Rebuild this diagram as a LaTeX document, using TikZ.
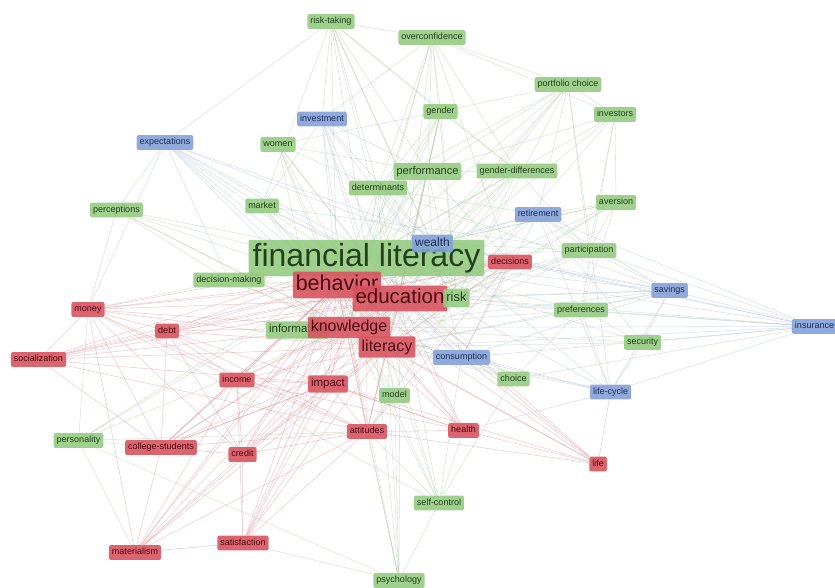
\documentclass[tikz,border=0pt]{standalone}
\usepackage{fontspec}
\setmainfont{Liberation Sans}
\definecolor{gfill}{HTML}{95CB82}
\definecolor{rfill}{HTML}{D8545F}
\definecolor{bfill}{HTML}{84A2D8}
\definecolor{gtext}{HTML}{22401A}
\definecolor{rtext}{HTML}{4A0A12}
\definecolor{btext}{HTML}{1C2E5C}
\definecolor{gline}{HTML}{A6C69C}
\definecolor{rline}{HTML}{E0838C}
\definecolor{bline}{HTML}{A6B6DA}
\pgfdeclarelayer{bg}
\pgfsetlayers{bg,main}
\tikzset{
  kw/.style={rounded corners=2pt, inner xsep=3pt, inner ysep=3.3pt, fill opacity=0.9, text opacity=1},
  fs/.style={font=\fontsize{#1}{#1}\selectfont, text height={0.72*#1pt}, text depth={0.21*#1pt}},
  fs/.default=9,
  gk/.style={kw, fill=gfill, text=gtext},
  rk/.style={kw, fill=rfill, text=rtext},
  bk/.style={kw, fill=bfill, text=btext},
  gedge/.style={draw=gline, line width=0.55pt, draw opacity=0.42},
  redge/.style={draw=rline, line width=0.55pt, draw opacity=0.42},
  bedge/.style={draw=bline, line width=0.55pt, draw opacity=0.42}
}
\begin{document}
\begin{tikzpicture}[x=1pt,y=-1pt]
\useasboundingbox (0,0) rectangle (835,588);
% small green
\node[gk,fs] (rtak) at (331,21.5) {risk-taking};
\node[gk,fs] (overc) at (432,37.5) {overconfidence};
\node[gk,fs] (portf) at (568,84.5) {portfolio choice};
\node[gk,fs] (gender) at (440.5,111.5) {gender};
\node[gk,fs] (investors) at (615,114.5) {investors};
\node[gk,fs] (women) at (278,144.5) {women};
\node[gk,fs] (gdiff) at (517,171) {gender-differences};
\node[gk,fs] (determ) at (378,188) {determinants};
\node[gk,fs] (market) at (262,206) {market};
\node[gk,fs] (percep) at (116.5,210) {perceptions};
\node[gk,fs] (aversion) at (616,202.5) {aversion};
\node[gk,fs] (partic) at (589,250.5) {participation};
\node[gk,fs] (decmak) at (229,280) {decision-making};
\node[gk,fs] (prefs) at (581,310) {preferences};
\node[gk,fs] (security) at (642.5,342.5) {security};
\node[gk,fs] (choice) at (513.5,379) {choice};
\node[gk,fs] (model) at (394.5,395.5) {model};
\node[gk,fs] (person) at (78.5,440.5) {personality};
\node[gk,fs] (selfc) at (439,503) {self-control};
\node[gk,fs] (psych) at (399,580.5) {psychology};
% small blue
\node[bk,fs] (invest) at (322,119) {investment};
\node[bk,fs] (expect) at (165,142.5) {expectations};
\node[bk,fs] (retire) at (538,214.5) {retirement};
\node[bk,fs] (savings) at (669.5,290.5) {savings};
\node[bk,fs] (insur) at (814.5,326.5) {insurance};
\node[bk,fs] (consum) at (461.5,357.5) {consumption};
\node[bk,fs] (lifecyc) at (610.5,392) {life-cycle};
% small red
\node[rk,fs] (money) at (88,309.5) {money};
\node[rk,fs] (debt) at (167,331) {debt};
\node[rk,fs] (social) at (38.5,359.5) {socialization};
\node[rk,fs] (income) at (237,380) {income};
\node[rk,fs] (attit) at (367,431.5) {attitudes};
\node[rk,fs] (health) at (463.5,430.5) {health};
\node[rk,fs] (college) at (161,447.5) {college-students};
\node[rk,fs] (credit) at (242.5,454.5) {credit};
\node[rk,fs] (life) at (598,464) {life};
\node[rk,fs] (mater) at (135,552.5) {materialism};
\node[rk,fs] (satis) at (243,543) {satisfaction};
% medium / large
\node[gk,fs=11] (perf) at (427.5,171.5) {performance};
\node[rk,fs=11.5] (impact) at (328,384) {impact};
\node[gk,fs=32,inner xsep=4pt] (fl) at (366.5,258) {financial literacy};
\node[bk,fs=12] (wealth) at (432.5,243.5) {wealth};
\node[rk,fs] (dec) at (510,262) {decisions};
\node[rk,fs=21.5] (beh) at (337,285) {behavior};
\node[rk,fs=20.5] (edu) at (400,298.5) {education};
\node[gk,fs=13] (risk) at (456.5,298) {risk};
\node[gk,fs=11.5] (info) at (297.5,330) {information};
\node[rk,fs=16] (know) at (349,327.5) {knowledge};
\node[rk,fs=16] (lit) at (387,347) {literacy};

\begin{pgfonlayer}{bg}
\fill[white] (0,0) rectangle (835,588);
\foreach \a/\b in {rtak/fl, rtak/perf, rtak/determ, rtak/gender, rtak/risk, rtak/beh, rtak/overc, rtak/market, rtak/edu, rtak/invest, rtak/gdiff, rtak/wealth,
 overc/fl, overc/perf, overc/gender, overc/portf, overc/risk, overc/gdiff, overc/invest, overc/dec, overc/know, overc/edu, overc/investors, overc/determ,
 portf/fl, portf/partic, portf/wealth, portf/risk, portf/gender, portf/perf, portf/lifecyc, portf/edu, portf/know, portf/retire, portf/investors, portf/determ,
 investors/fl, investors/risk, investors/perf, investors/prefs, investors/partic, investors/aversion, investors/know,
 gender/fl, gender/perf, gender/risk, gender/know, gender/edu, gender/gdiff, gender/women, gender/lit, gender/determ, gender/beh, gender/attit,
 women/fl, women/perf, women/know, women/lit, women/beh, women/impact, women/edu, women/determ,
 perf/fl, perf/risk, perf/know, perf/edu, perf/lit, perf/wealth, perf/determ, perf/dec, perf/beh,
 gdiff/fl, gdiff/risk, gdiff/know, gdiff/lit, gdiff/edu, gdiff/perf, gdiff/partic, gdiff/wealth,
 determ/fl, determ/know, determ/lit, determ/edu, determ/beh, determ/risk, determ/wealth, determ/retire, determ/savings,
 market/fl, market/know, market/edu, market/beh, market/risk, market/partic, market/invest, market/lit,
 percep/fl, percep/beh, percep/know, percep/lit, percep/risk, percep/expect, percep/money, percep/decmak,
 aversion/fl, aversion/risk, aversion/prefs, aversion/partic, aversion/retire, aversion/know, aversion/lit, aversion/wealth,
 partic/fl, partic/risk, partic/wealth, partic/know, partic/lit, partic/retire, partic/savings, partic/edu, partic/insur,
 decmak/fl, decmak/beh, decmak/know, decmak/lit, decmak/risk, decmak/money, decmak/dec,
 risk/fl, risk/prefs, risk/know, risk/lit, risk/dec, risk/insur, risk/savings, risk/attit,
 info/fl, info/know, info/lit, info/dec, info/beh,
 prefs/fl, prefs/lit, prefs/savings, prefs/insur, prefs/security, prefs/know, prefs/lifecyc,
 security/fl, security/savings, security/insur, security/lit, security/retire, security/lifecyc, security/know,
 choice/fl, choice/lit, choice/know, choice/edu, choice/prefs, choice/consum, choice/selfc, choice/insur,
 model/fl, model/lit, model/know, model/attit, model/psych, model/beh,
 person/fl, person/college, person/mater, person/beh, person/know, person/money, person/attit, person/psych,
 selfc/fl, selfc/lit, selfc/beh, selfc/know, selfc/psych, selfc/attit, selfc/edu, selfc/health, selfc/consum, selfc/money,
 psych/fl, psych/attit, psych/lit, psych/know, psych/beh, psych/satis, psych/edu}
  \draw[gedge] (\a) -- (\b);
\foreach \a/\b in {dec/fl, dec/beh, dec/edu, dec/know, dec/lit, dec/attit, dec/consum,
 beh/fl, beh/edu, beh/know, beh/lit, beh/attit, beh/money, beh/debt, beh/impact,
 edu/fl, edu/know, edu/lit, edu/attit, edu/impact, edu/health,
 know/fl, know/lit, know/attit, know/impact, lit/fl, lit/attit, lit/health, lit/impact,
 money/fl, money/know, money/lit, money/edu, money/attit, money/debt, money/social, money/college, money/income, money/dec, money/credit,
 debt/fl, debt/know, debt/lit, debt/edu, debt/attit, debt/credit, debt/college, debt/income, debt/social, debt/dec, debt/impact,
 social/fl, social/beh, social/know, social/lit, social/edu, social/attit, social/college, social/impact, social/dec,
 income/fl, income/beh, income/know, income/lit, income/edu, income/attit, income/credit, income/college, income/health,
 impact/fl, impact/attit, impact/credit, impact/college, impact/health, impact/income,
 attit/fl, attit/credit, attit/college, attit/mater, attit/satis, attit/health, attit/life,
 health/fl, health/know, health/beh, health/life, health/impact,
 college/fl, college/beh, college/know, college/lit, college/credit, college/mater, college/impact, college/edu,
 credit/fl, credit/beh, credit/know, credit/lit, credit/mater, credit/satis, credit/edu,
 life/fl, life/lit, life/edu, life/know, life/beh, life/consum, life/lifecyc, life/impact,
 mater/fl, mater/beh, mater/know, mater/lit, mater/satis, mater/income, mater/impact, mater/money,
 satis/fl, satis/beh, satis/know, satis/lit, satis/income, satis/edu, satis/impact}
  \draw[redge] (\a) -- (\b);
\foreach \a/\b in {invest/fl, invest/risk, invest/know, invest/lit, invest/wealth, invest/perf, invest/edu, invest/beh,
 expect/fl, expect/beh, expect/know, expect/lit, expect/risk, expect/market, expect/decmak, expect/money, expect/wealth, expect/consum, expect/dec, expect/rtak,
 retire/fl, retire/wealth, retire/savings, retire/lit, retire/know, retire/lifecyc, retire/insur, retire/consum,
 wealth/fl, wealth/lit, wealth/know, wealth/savings, wealth/consum,
 savings/fl, savings/lit, savings/know, savings/insur, savings/consum, savings/lifecyc, savings/edu, savings/dec,
 insur/fl, insur/lit, insur/know, insur/lifecyc, insur/consum, insur/wealth, insur/edu, insur/dec,
 consum/fl, consum/lit, consum/know, consum/lifecyc, consum/edu,
 lifecyc/fl, lifecyc/lit, lifecyc/know, lifecyc/wealth, lifecyc/health}
  \draw[bedge] (\a) -- (\b);
\end{pgfonlayer}
\end{tikzpicture}
\end{document}
